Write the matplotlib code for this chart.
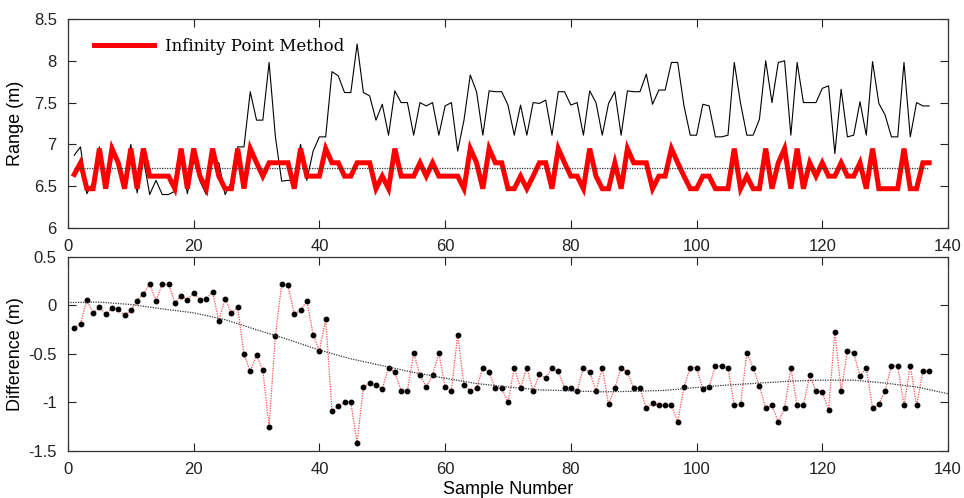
import matplotlib.pyplot as plt
import numpy as np

# sample index
samples = list(range(1, 138))

# Infinity Point Method range (m)
ipm_range = [
    6.64, 6.78, 6.47, 6.47, 6.95, 6.47, 6.95, 6.78, 6.47, 6.95,
    6.47, 6.95, 6.62, 6.62, 6.62, 6.62, 6.47, 6.95, 6.47, 6.95,
    6.62, 6.47, 6.95, 6.62, 6.47, 6.47, 6.95, 6.47, 6.95, 6.78,
    6.62, 6.78, 6.78, 6.78, 6.78, 6.47, 6.95, 6.62, 6.62, 6.62,
    6.95, 6.78, 6.78, 6.62, 6.62, 6.78, 6.78, 6.78, 6.47, 6.62,
    6.47, 6.95, 6.62, 6.62, 6.62, 6.78, 6.62, 6.78, 6.62, 6.62,
    6.62, 6.62, 6.47, 6.95, 6.78, 6.47, 6.95, 6.78, 6.78, 6.47,
    6.47, 6.62, 6.47, 6.62, 6.78, 6.78, 6.47, 6.95, 6.78, 6.62,
    6.62, 6.47, 6.95, 6.62, 6.47, 6.47, 6.78, 6.47, 6.95, 6.78,
    6.78, 6.78, 6.47, 6.62, 6.62, 6.95, 6.78, 6.62, 6.47, 6.47,
    6.62, 6.62, 6.47, 6.47, 6.47, 6.95, 6.47, 6.62, 6.47, 6.47,
    6.95, 6.47, 6.78, 6.95, 6.47, 6.95, 6.47, 6.78, 6.62, 6.78,
    6.62, 6.62, 6.78, 6.62, 6.62, 6.78, 6.47, 6.95, 6.47, 6.47,
    6.47, 6.47, 6.95, 6.47, 6.47, 6.78, 6.78]

# measured range (m), thin black line
measured_range = [
    6.87, 6.97, 6.41, 6.55, 6.97, 6.56, 6.98, 6.82, 6.57, 7.00,
    6.42, 6.83, 6.40, 6.57, 6.40, 6.40, 6.44, 6.85, 6.41, 6.82,
    6.56, 6.40, 6.81, 6.78, 6.40, 6.55, 6.97, 6.97, 7.63, 7.29,
    7.29, 7.98, 7.09, 6.56, 6.57, 6.56, 7.00, 6.57, 6.92, 7.09,
    7.09, 7.87, 7.82, 7.62, 7.62, 8.20, 7.62, 7.58, 7.29, 7.48,
    7.11, 7.64, 7.50, 7.50, 7.11, 7.50, 7.46, 7.50, 7.11, 7.46,
    7.50, 6.92, 7.29, 7.83, 7.63, 7.11, 7.64, 7.63, 7.63, 7.47,
    7.11, 7.47, 7.11, 7.50, 7.49, 7.53, 7.11, 7.63, 7.63, 7.47,
    7.50, 7.11, 7.64, 7.50, 7.11, 7.49, 7.63, 7.11, 7.64, 7.63,
    7.63, 7.84, 7.48, 7.65, 7.65, 7.98, 7.98, 7.46, 7.11, 7.11,
    7.48, 7.46, 7.09, 7.09, 7.11, 7.98, 7.49, 7.11, 7.11, 7.30,
    8.00, 7.50, 7.98, 8.00, 7.11, 7.98, 7.50, 7.50, 7.50, 7.67,
    7.70, 6.89, 7.66, 7.09, 7.11, 7.51, 7.11, 7.99, 7.49, 7.35,
    7.09, 7.09, 7.98, 7.09, 7.50, 7.46, 7.46]

true_range = 6.72

# difference (m)
difference = [
    -0.23, -0.19, 0.06, -0.08, -0.02, -0.09, -0.03, -0.04, -0.10, -0.05,
    0.05, 0.12, 0.22, 0.05, 0.22, 0.22, 0.03, 0.10, 0.06, 0.13,
    0.06, 0.07, 0.14, -0.16, 0.07, -0.08, -0.02, -0.50, -0.68, -0.51,
    -0.67, -1.25, -0.31, 0.22, 0.21, -0.09, -0.05, 0.05, -0.30, -0.47,
    -0.14, -1.09, -1.04, -1.00, -1.00, -1.42, -0.84, -0.80, -0.82, -0.86,
    -0.64, -0.69, -0.88, -0.88, -0.49, -0.72, -0.84, -0.72, -0.49, -0.84,
    -0.88, -0.30, -0.82, -0.88, -0.85, -0.64, -0.69, -0.85, -0.85, -1.00,
    -0.64, -0.85, -0.64, -0.88, -0.71, -0.75, -0.64, -0.68, -0.85, -0.85,
    -0.88, -0.64, -0.69, -0.88, -0.64, -1.02, -0.85, -0.64, -0.69, -0.85,
    -0.85, -1.06, -1.01, -1.03, -1.03, -1.03, -1.20, -0.84, -0.64, -0.64,
    -0.86, -0.84, -0.62, -0.62, -0.64, -1.03, -1.02, -0.49, -0.64, -0.83,
    -1.06, -1.03, -1.20, -1.06, -0.64, -1.03, -1.03, -0.72, -0.88, -0.89,
    -1.08, -0.27, -0.88, -0.47, -0.49, -0.73, -0.64, -1.06, -1.02, -0.88,
    -0.62, -0.62, -1.03, -0.62, -1.03, -0.68, -0.68]

# trend curve
trend_x = [0, 5, 10, 15, 20, 25, 30, 35, 40, 45, 50, 55, 60, 65, 70,
           75, 80, 85, 90, 95, 100, 105, 110, 115, 120, 125, 130, 135, 140]
trend_y = [0.03, 0.035, 0.01, -0.035, -0.076, -0.146, -0.25, -0.35, -0.46,
           -0.55, -0.62, -0.69, -0.75, -0.805, -0.84, -0.87, -0.88, -0.89,
           -0.885, -0.875, -0.845, -0.82, -0.80, -0.78, -0.77, -0.77, -0.80,
           -0.84, -0.91]

plt.rcParams['font.family'] = ['Liberation Sans', 'DejaVu Sans']

fig = plt.figure(figsize=(9.64, 4.98), dpi=100)
ax1 = fig.add_axes([0.0705, 0.5422, 0.9129, 0.4197])
ax2 = fig.add_axes([0.0705, 0.0944, 0.9129, 0.3896])

# top: range
ax1.plot(samples, measured_range, color='black', lw=0.8)
line_ipm, = ax1.plot(samples, ipm_range, color='#ff0000', lw=3.6,
                     solid_joinstyle='miter', label='Infinity Point Method')
ax1.plot([samples[0], samples[-1]], [true_range, true_range], color='#333333',
         lw=0.9, ls=(0, (1, 1)))
ax1.set_xlim(0, 140)
ax1.set_ylim(6, 8.5)
ax1.set_xticks(range(0, 141, 20))
ax1.set_yticks([6, 6.5, 7, 7.5, 8, 8.5])
ax1.set_yticklabels(['6', '6.5', '7', '7.5', '8', '8.5'])
ax1.set_ylabel('Range (m)', fontsize=13)
leg = ax1.legend(handles=[line_ipm], loc='upper left', frameon=False,
                 prop={'family': 'DejaVu Serif', 'size': 12},
                 handlelength=3.6, handletextpad=0.7,
                 bbox_to_anchor=(0.012, 0.98))

# bottom: difference
ax2.plot(samples, difference, color='#ff4d4d', lw=0.9, ls=(0, (1, 1)),
         marker='o', markersize=3.2, markerfacecolor='black',
         markeredgecolor='black')
ax2.plot(trend_x, trend_y, color='#333333', lw=0.9, ls=(0, (1, 1)))
ax2.set_xlim(0, 140)
ax2.set_ylim(-1.5, 0.5)
ax2.set_xticks(range(0, 141, 20))
ax2.set_yticks([-1.5, -1, -0.5, 0, 0.5])
ax2.set_yticklabels(['-1.5', '-1', '-0.5', '0', '0.5'])
ax2.set_ylabel('Difference (m)', fontsize=13)
ax2.set_xlabel('Sample Number', fontsize=13, labelpad=3)

for ax in (ax1, ax2):
    ax.tick_params(direction='in', top=True, right=True, length=6,
                   labelsize=12, width=0.8, colors='#222222', pad=8)
    for s in ax.spines.values():
        s.set_color('#333333')
        s.set_linewidth(0.9)
    ax.yaxis.set_label_coords(-0.05, 0.5)

fig.savefig('out.png', dpi=100)
